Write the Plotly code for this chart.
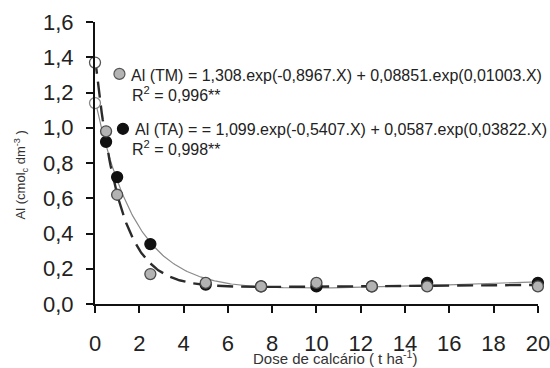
import numpy as np
import plotly.graph_objects as go

# Doses de calcário (t/ha)
dose = [0, 0.5, 1, 2.5, 5, 7.5, 10, 12.5, 15, 20]

# Al trocável observado (cmolc/dm3)
al_tm = [1.37, 0.98, 0.62, 0.17, 0.12, 0.10, 0.12, 0.10, 0.10, 0.10]
al_ta = [1.14, 0.92, 0.72, 0.34, 0.11, 0.10, 0.10, 0.10, 0.12, 0.12]

# Coeficientes dos modelos biexponenciais: a.exp(b.X) + c.exp(d.X)
coef_tm = [1.308, -0.8967, 0.08851, 0.01003]
coef_ta = [1.099, -0.5407, 0.0587, 0.03822]

y_ticks = [0, 0.2, 0.4, 0.6, 0.8, 1.0, 1.2, 1.4, 1.6]
y_ticktext = ["0,0", "0,2", "0,4", "0,6", "0,8", "1,0", "1,2", "1,4", "1,6"]
x_ticks = [0, 2, 4, 6, 8, 10, 12, 14, 16, 18, 20]


def model(c, x):
    return c[0] * np.exp(c[1] * x) + c[2] * np.exp(c[3] * x)


xs = np.linspace(0, 20, 400)
FONT = "Liberation Sans, Arial, sans-serif"
TXT = "#222222"

fig = go.Figure()

# fitted curves
fig.add_trace(go.Scatter(x=xs, y=model(coef_ta, xs), mode="lines",
                         line=dict(color="#8a8a8a", width=1.2),
                         showlegend=False, hoverinfo="skip"))
fig.add_trace(go.Scatter(x=xs, y=model(coef_tm, xs), mode="lines",
                         line=dict(color="#2b2b2b", width=2.4, dash="16px,8px"),
                         showlegend=False, hoverinfo="skip"))


def fills(values, base):
    # the zero-dose point is drawn as an open circle
    return ["#ffffff" if i == 0 else base for i in range(len(values))]


def edges(values, base, open_edge):
    return [open_edge if i == 0 else base for i in range(len(values))]


fig.add_trace(go.Scatter(x=dose, y=al_ta, mode="markers", cliponaxis=False,
                         marker=dict(size=11, color=fills(al_ta, "#111111"),
                                     line=dict(color=edges(al_ta, "#111111", "#888888"), width=1.3)),
                         showlegend=False))
fig.add_trace(go.Scatter(x=dose, y=al_tm, mode="markers", cliponaxis=False,
                         marker=dict(size=11, color=fills(al_tm, "#b3b3b3"),
                                     line=dict(color=edges(al_tm, "#4a4a4a", "#555555"), width=1.3)),
                         showlegend=False))

# equation key
L, R, T, B = 94.5, 538.5, 22, 304.5
W, H = R - L, B - T


def px(xp):
    return (xp - L) / W


def py(yp):
    return (B - yp) / H


shapes = []
for cx, cy, fc, lc in [(119, 74, "#b3b3b3", "#555555"), (122.5, 129, "#111111", "#111111")]:
    shapes.append(dict(type="circle", xref="paper", yref="paper",
                       xsizemode="pixel", ysizemode="pixel",
                       xanchor=px(cx), yanchor=py(cy),
                       x0=-5.5, x1=5.5, y0=-5.5, y1=5.5,
                       fillcolor=fc, line=dict(color=lc, width=1.2)))

ann = [
    dict(x=px(129), y=py(75.5), text="Al (TM) = 1,308.exp(-0,8967.X) + 0,08851.exp(0,01003.X)"),
    dict(x=px(130), y=py(94), text="R<sup>2</sup> = 0,996**"),
    dict(x=px(133), y=py(130), text="Al (TA) = = 1,099.exp(-0,5407.X) + 0,0587.exp(0,03822.X)"),
    dict(x=px(130), y=py(148), text="R<sup>2</sup> = 0,998**"),
]
annotations = []
for a in ann:
    annotations.append(dict(xref="paper", yref="paper", xanchor="left", yanchor="middle",
                            showarrow=False, font=dict(family=FONT, size=16, color=TXT), **a))

annotations.append(dict(xref="paper", yref="paper", x=px(335), y=py(358),
                        xanchor="center", yanchor="middle", showarrow=False,
                        text="Dose de calcário ( t ha<sup>-1</sup>)",
                        font=dict(family=FONT, size=15, color="#333333")))
annotations.append(dict(xref="paper", yref="paper", x=px(20), y=py(175),
                        xanchor="center", yanchor="middle", showarrow=False, textangle=-90,
                        text="Al (cmol<sub>c</sub> dm<sup>-3</sup> )",
                        font=dict(family=FONT, size=13, color="#333333")))

fig.update_layout(
    width=550, height=368,
    margin=dict(l=L, r=550 - R, t=T, b=368 - B, pad=0),
    paper_bgcolor="white", plot_bgcolor="white",
    font=dict(family=FONT, color=TXT),
    shapes=shapes, annotations=annotations,
    xaxis=dict(range=[0, 20.005], tickvals=x_ticks, ticktext=[str(v) for v in x_ticks],
               showgrid=False, zeroline=False, showline=True, linecolor="#111111", linewidth=2,
               ticks="outside", ticklen=7, tickwidth=2, tickcolor="#111111",
               tickfont=dict(size=22, color=TXT), ticklabelstandoff=12,
               ticklabeloverflow="allow", automargin=False),
    yaxis=dict(range=[0, 1.6], tickvals=y_ticks, ticktext=y_ticktext,
               showgrid=False, zeroline=False, showline=True, linecolor="#111111", linewidth=2,
               ticks="outside", ticklen=7, tickwidth=2, tickcolor="#111111",
               tickfont=dict(size=22, color=TXT), ticklabelstandoff=8, automargin=False),
)

fig.write_html("out.html")
